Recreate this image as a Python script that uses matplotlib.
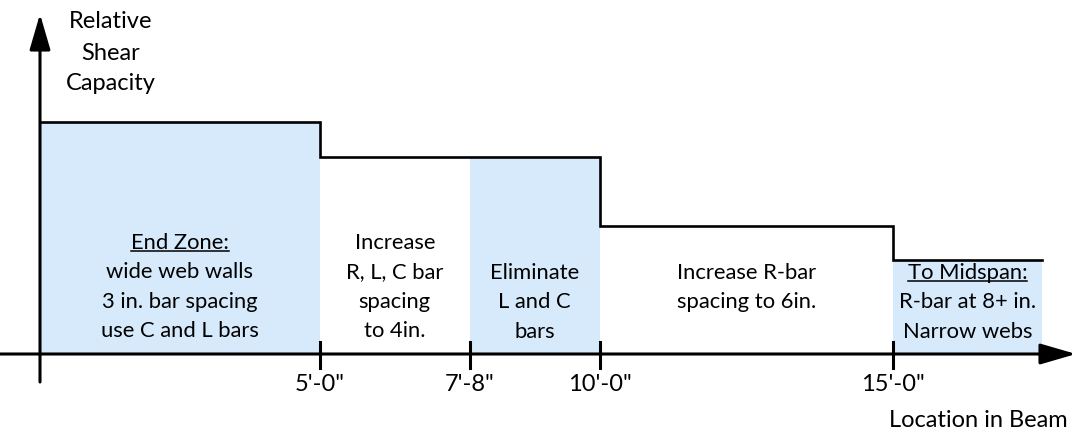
import matplotlib
matplotlib.use("Agg")
import matplotlib.pyplot as plt
from matplotlib.patches import Rectangle

plt.rcParams['font.family'] = ['Lato', 'DejaVu Sans']

# Schematic data
boundaries = [0, 5, 7.67, 10, 15.23, 17.9]          # zone edges (ft, schematic)
levels = [100, 85, 85, 55, 40.5]                     # relative shear capacity per zone
shaded = [True, False, True, False, True]
zone_texts = [
    ["End Zone:", "wide web walls", "3 in. bar spacing", "use C and L bars"],
    ["Increase", "R, L, C bar", "spacing", "to 4in."],
    ["Eliminate", "L and C", "bars"],
    ["Increase R-bar", "spacing to 6in."],
    ["To Midspan:", "R-bar at 8+ in.", "Narrow webs"],
]
underline_first = [True, False, False, False, True]
tick_pos = [5, 7.67, 10, 15.23]
tick_labels = ["5'-0\"", "7'-8\"", "10'-0\"", "15'-0\""]
ylab = ["Relative", "Shear", "Capacity"]
xlab = "Location in Beam"

PXX = 56.0   # px per ft
PXY = 2.32   # px per unit
fig = plt.figure(figsize=(10.76, 4.36), dpi=100)
ax = fig.add_axes([0, 0, 1, 1])
ax.set_xlim(-40 / PXX, 1036 / PXX)
ax.set_ylim(-82 / PXY, 354 / PXY)
ax.axis('off')

fill = '#D6EAFC'
for i in range(len(levels)):
    if shaded[i]:
        ax.add_patch(Rectangle((boundaries[i], 0), boundaries[i + 1] - boundaries[i], levels[i],
                               facecolor=fill, edgecolor='none', zorder=1))

# Step line
xs, ys = [], []
for i in range(len(levels)):
    xs += [boundaries[i], boundaries[i + 1]]
    ys += [levels[i], levels[i]]
ax.plot(xs, ys, color='black', lw=1.9, zorder=3, solid_joinstyle='miter')

# Axes arrows
ax.annotate('', xy=(1036 / PXX, 0), xytext=(-40 / PXX, 0),
            arrowprops=dict(arrowstyle='-|>,head_length=1.1,head_width=0.32', mutation_scale=20,
                            lw=2.2, color='black', shrinkA=0, shrinkB=0), zorder=4)
ax.annotate('', xy=(0, 340 / PXY), xytext=(0, -28 / PXY),
            arrowprops=dict(arrowstyle='-|>,head_length=1.1,head_width=0.32', mutation_scale=20,
                            lw=2.2, color='black', shrinkA=0, shrinkB=0), zorder=4)

# Ticks
for p in tick_pos:
    ax.plot([p, p], [12 / PXY, -14 / PXY], color='black', lw=2.2, zorder=4)
for p, lab in zip(tick_pos, tick_labels):
    ax.text(p, -30 / PXY, lab, ha='center', va='center', fontsize=17)

ax.text(1068 / PXX - 40 / PXX, -66 / PXY, xlab, ha='right', va='center', fontsize=17)

for k, s in enumerate(ylab):
    ax.text(71 / PXX, (354 - 22 - 31 * k) / PXY, s, ha='center', va='center', fontsize=17)

# Zone texts
line_gap = 29.3
under = []
for i, lines in enumerate(zone_texts):
    cx = (boundaries[i] + boundaries[i + 1]) / 2
    n = len(lines)
    top = 354 - (243 if n == 4 else 273)
    for k, s in enumerate(lines):
        t = ax.text(cx, (top - line_gap * k) / PXY, s, ha='center', va='center', fontsize=15.8, zorder=5)
        if k == 0 and underline_first[i]:
            under.append(t)

fig.canvas.draw()
r = fig.canvas.get_renderer()
inv = ax.transData.inverted()
for t in under:
    bb = t.get_window_extent(renderer=r)
    (x0, y0), (x1, _) = inv.transform([(bb.x0, bb.y0 + 2), (bb.x1, bb.y0 + 2)])
    ax.plot([x0, x1], [y0, y0], color='black', lw=1.1, zorder=5)

fig.savefig('out.png', dpi=100)
